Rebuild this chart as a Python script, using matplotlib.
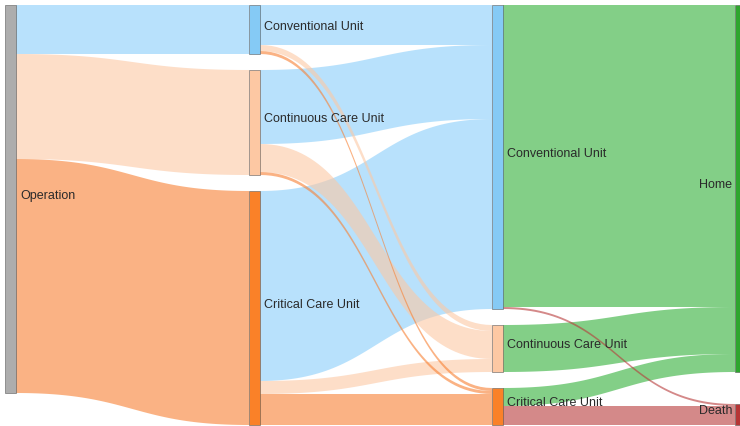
import numpy as np
import matplotlib.pyplot as plt
from matplotlib.patches import Polygon, Rectangle

# sankey data: patient path after operation
node_labels = [
    "Operation",
    "Conventional Unit",
    "Continuous Care Unit",
    "Critical Care Unit",
    "Conventional Unit",
    "Continuous Care Unit",
    "Critical Care Unit",
    "Home",
    "Death",
]
node_columns = [0, 1, 1, 1, 2, 2, 2, 3, 3]
node_colors = [
    "#a9a9a9",
    "#7fc8f5",
    "#fdc59e",
    "#fa7a1c",
    "#7fc8f5",
    "#fdc59e",
    "#fa7a1c",
    "#22a022",
    "#b22a2a",
]
link_source = [0, 0, 0, 1, 1, 1, 2, 2, 2, 3, 3, 3, 4, 4, 5, 6, 6]
link_target = [1, 2, 3, 4, 5, 6, 4, 5, 6, 4, 5, 6, 7, 8, 7, 7, 8]
link_value = [49, 105, 234, 40, 6, 3, 74, 28, 3, 190, 13, 31, 302, 2, 47, 18, 19]
link_colors = {
    1: "#8acefa", 4: "#8acefa",
    2: "#fcc8a4", 5: "#fcc8a4",
    3: "#f88032", 6: "#f88032",
    7: "#30b038",
    8: "#b83a3a",
}

# layout in pixels (figure 740x426)
W, H = 740, 426
top, bottom = 5, 425
node_w = 11
col_x = [5, 249, 492, 735]

n = len(node_labels)
inflow = np.zeros(n)
outflow = np.zeros(n)
for s, t, v in zip(link_source, link_target, link_value):
    outflow[s] += v
    inflow[t] += v
node_val = np.maximum(inflow, outflow)

pad = 16
ky = min(
    (bottom - top - (node_columns.count(c) - 1) * pad)
    / sum(node_val[i] for i in range(n) if node_columns[i] == c)
    for c in set(node_columns)
)

node_y0 = np.zeros(n)
for c in set(node_columns):
    idx = [i for i in range(n) if node_columns[i] == c]
    total = sum(node_val[i] for i in idx) * ky
    gap = (bottom - top - total) / (len(idx) - 1) if len(idx) > 1 else 0
    y = top
    for i in idx:
        node_y0[i] = y
        y += node_val[i] * ky + gap

# link offsets in source (ordered by target) and target (ordered by source)
src_off = {}
tgt_off = {}
used_out = node_y0.copy()
for k in sorted(range(len(link_value)), key=lambda k: (link_source[k], node_y0[link_target[k]])):
    src_off[k] = used_out[link_source[k]]
    used_out[link_source[k]] += link_value[k] * ky
used_in = node_y0.copy()
for k in sorted(range(len(link_value)), key=lambda k: (link_target[k], node_y0[link_source[k]])):
    tgt_off[k] = used_in[link_target[k]]
    used_in[link_target[k]] += link_value[k] * ky

fig = plt.figure(figsize=(7.4, 4.26), dpi=100)
ax = fig.add_axes([0, 0, 1, 1])
ax.set_xlim(0, W)
ax.set_ylim(H, 0)
ax.axis("off")

t = np.linspace(0, 1, 60)


def bezier(x0, x1, y0, y1):
    xm = (x0 + x1) / 2
    xs = (1 - t) ** 3 * x0 + 3 * (1 - t) ** 2 * t * xm + 3 * (1 - t) * t ** 2 * xm + t ** 3 * x1
    ys = (1 - t) ** 3 * y0 + 3 * (1 - t) ** 2 * t * y0 + 3 * (1 - t) * t ** 2 * y1 + t ** 3 * y1
    return xs, ys


# links, drawn grouped by target so the thin orange ones sit on top of the blue
for k in sorted(range(len(link_value)), key=lambda k: link_target[k]):
    s, tg, v = link_source[k], link_target[k], link_value[k]
    x0 = col_x[node_columns[s]] + node_w
    x1 = col_x[node_columns[tg]]
    h = v * ky
    xt, yt = bezier(x0, x1, src_off[k], tgt_off[k])
    xb, yb = bezier(x0, x1, src_off[k] + h, tgt_off[k] + h)
    pts = np.column_stack([np.r_[xt, xb[::-1]], np.r_[yt, yb[::-1]]])
    ax.add_patch(Polygon(pts, closed=True, facecolor=link_colors[tg], alpha=0.6, lw=0))

# nodes and labels
for i in range(n):
    c = node_columns[i]
    h = node_val[i] * ky
    ax.add_patch(
        Rectangle((col_x[c], node_y0[i]), node_w, h, facecolor=node_colors[i],
                  edgecolor="#555555", lw=0.4, alpha=0.95)
    )
    yc = node_y0[i] + h / 2 - 3
    if c == 3:
        ax.text(col_x[c] - 3, yc, node_labels[i], ha="right", va="center",
                fontsize=9, color="#2a2a2a", family="Liberation Sans")
    else:
        ax.text(col_x[c] + node_w + 4, yc, node_labels[i], ha="left", va="center",
                fontsize=9, color="#2a2a2a", family="Liberation Sans")

plt.savefig("out.png", dpi=100)
